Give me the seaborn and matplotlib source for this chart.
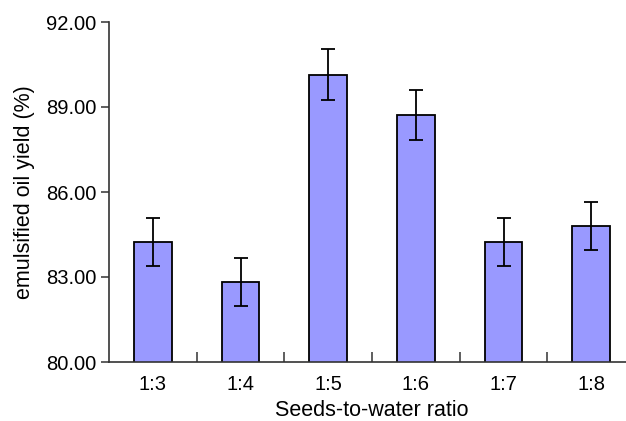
import matplotlib
matplotlib.use("Agg")
import matplotlib.pyplot as plt
import seaborn as sns
import numpy as np
from matplotlib.ticker import FormatStrFormatter, FixedLocator

categories = ["1:3", "1:4", "1:5", "1:6", "1:7", "1:8"]
values = [84.25, 82.83, 90.13, 88.71, 84.25, 84.81]
errors = [0.85, 0.85, 0.90, 0.88, 0.85, 0.85]
yticks = [80, 83, 86, 89, 92]

sns.set_style("white")
plt.rcParams['font.family'] = ['Liberation Sans', 'DejaVu Sans']
plt.rcParams['text.color'] = 'black'
plt.rcParams['axes.labelcolor'] = 'black'
plt.rcParams['xtick.labelcolor'] = 'black'
plt.rcParams['ytick.labelcolor'] = 'black'

fig = plt.figure(figsize=(6.26, 4.21), dpi=100)
W, H = 626, 421
left, right, top, bottom = 109, 635, 22, 362
ax = fig.add_axes([left / W, 1 - bottom / H, (right - left) / W, (bottom - top) / H])

sns.barplot(x=categories, y=values, color="#9999FF", saturation=1, width=0.43,
            edgecolor="black", linewidth=1.3, errorbar=None, ax=ax)
ax.errorbar(x=np.arange(len(categories)), y=values, yerr=errors, fmt='none',
            ecolor='black', elinewidth=1.3, capsize=5, capthick=1.3)

ax.set_ylim(80, 92)
ax.set_xlim(-0.5, 5.5)
ax.yaxis.set_major_locator(FixedLocator(yticks))
ax.yaxis.set_major_formatter(FormatStrFormatter('%.2f'))
ax.xaxis.set_minor_locator(FixedLocator(np.arange(0.5, 5.5, 1.0)))

for s in ["top", "right"]:
    ax.spines[s].set_visible(False)
for s in ["left", "bottom"]:
    ax.spines[s].set_color("#333333")
    ax.spines[s].set_linewidth(1.2)

ax.tick_params(axis='y', which='major', direction='out', length=6, width=1.1,
               color='#333333', labelsize=14.5, pad=3, left=True, labelcolor='black')
ax.tick_params(axis='x', which='major', length=0, labelsize=14.5, pad=9,
               labelcolor='black')
ax.tick_params(axis='x', which='minor', direction='in', length=7, width=1.1,
               color='#333333', bottom=True)

ax.set_xlabel("Seeds-to-water ratio", fontsize=15.5, labelpad=5, color='black')
ax.set_ylabel("emulsified oil yield (%)", fontsize=15.5, labelpad=8, color='black')

fig.savefig("out.png", dpi=100)
